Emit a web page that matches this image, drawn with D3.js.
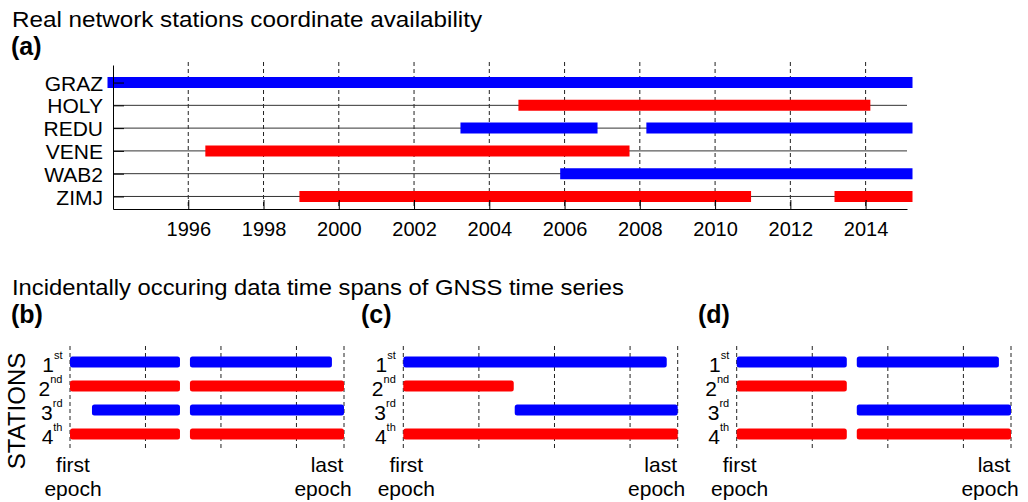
<!DOCTYPE html>
<html>
<head>
<meta charset="utf-8">
<script src="https://cdn.jsdelivr.net/npm/d3@7"></script>
<style>
  html, body { margin: 0; padding: 0; background: #fff; }
  svg { display: block; font-family: "Liberation Sans", Arial, Helvetica, sans-serif; }
</style>
</head>
<body>
<svg id="chart" width="1028" height="502"></svg>
<script>
// ---- (a) real network: availability spans per station, in decimal years ----
const stations = ["GRAZ", "HOLY", "REDU", "VENE", "WAB2", "ZIMJ"];
const spanStation = ["GRAZ", "HOLY", "REDU", "REDU", "VENE", "WAB2", "ZIMJ", "ZIMJ"];
const spanStart   = [1994.0, 2004.92, 2003.38, 2008.32, 1996.6, 2006.03, 1999.1, 2013.32];
const spanEnd     = [2015.1, 2013.98, 2006.73, 2015.1, 2007.58, 2015.1, 2010.81, 2015.1];
const yearDomain  = [1994, 2015.1];
const yearTicks   = [1996, 1998, 2000, 2002, 2004, 2006, 2008, 2010, 2012, 2014];

// ---- (b)-(d) schematic time spans, in epoch units ----
const rankDigits   = ["1", "2", "3", "4"];
const rankSuffixes = ["st", "nd", "rd", "th"];
const epochTicks   = [0, 1, 2, 3];
const epochEnd     = 3.63;

const caseBStation = [1, 1, 2, 2, 3, 3, 4, 4];
const caseBStart   = [0, 1.589, 0, 1.589, 0.291, 1.589, 0, 1.589];
const caseBEnd     = [1.457, 3.47, 1.457, 3.63, 1.457, 3.63, 1.457, 3.63];

const caseCStation = [1, 2, 3, 4];
const caseCStart   = [0, 0, 1.474, 0];
const caseCEnd     = [3.485, 1.461, 3.63, 3.63];

const caseDStation = [1, 1, 2, 3, 4, 4];
const caseDStart   = [0, 1.589, 0, 1.589, 0, 1.589];
const caseDEnd     = [1.457, 3.47, 1.457, 3.63, 1.457, 3.63];

const BLUE = "#0000ff", RED = "#ff0000";
const colorOfRank = i => (i % 2 === 1 ? BLUE : RED);   // 1st/3rd blue, 2nd/4th red

const svg = d3.select("#chart");

// ================= headings =================
svg.append("text").attr("x", 12).attr("y", 27)
  .attr("font-size", 22).attr("textLength", 470).attr("lengthAdjust", "spacingAndGlyphs")
  .text("Real network stations coordinate availability");
svg.append("text").attr("x", 11).attr("y", 55)
  .attr("font-size", 25).attr("font-weight", "bold").text("(a)");

svg.append("text").attr("x", 12).attr("y", 295)
  .attr("font-size", 22).attr("textLength", 612).attr("lengthAdjust", "spacingAndGlyphs")
  .text("Incidentally occuring data time spans of GNSS time series");

// ================= panel (a) =================
const xA = d3.scaleLinear().domain(yearDomain).range([113, 907]);
const yA = d3.scaleLinear().domain([0.23, 6.55]).range([65, 209]);
const rowA = name => yA(stations.indexOf(name) + 1);

const gA = svg.append("g");

// dashed year grid
gA.append("g").selectAll("line").data(yearTicks).join("line")
  .attr("x1", d => xA(d)).attr("x2", d => xA(d))
  .attr("y1", 62).attr("y2", yA.range()[1])
  .attr("stroke", "#222").attr("stroke-width", 1).attr("stroke-dasharray", "4,3");

// thin station baselines
gA.append("g").selectAll("line").data(stations).join("line")
  .attr("x1", xA(yearDomain[0])).attr("x2", xA(yearDomain[1]))
  .attr("y1", d => rowA(d)).attr("y2", d => rowA(d))
  .attr("stroke", "#333").attr("stroke-width", 1);

// availability bars
gA.append("g").selectAll("line").data(spanStation.map((s, i) => ({ s, a: spanStart[i], b: spanEnd[i] })))
  .join("line")
  .attr("x1", d => xA(d.a)).attr("x2", d => xA(d.b))
  .attr("y1", d => rowA(d.s)).attr("y2", d => rowA(d.s))
  .attr("stroke", d => colorOfRank(stations.indexOf(d.s) + 1))
  .attr("stroke-width", 11).attr("stroke-linecap", "square");

// bottom axis with inward ticks
const axA = gA.append("g").attr("transform", `translate(0,${yA.range()[1]})`)
  .call(d3.axisBottom(xA).tickValues(yearTicks).tickFormat(d3.format("d"))
    .tickSize(-9).tickSizeOuter(0).tickPadding(13));
axA.selectAll("text").attr("font-size", 20).attr("fill", "#000")
  .attr("font-family", "'Liberation Sans', Arial, sans-serif");
axA.selectAll("line, path").attr("stroke", "#000");

// left axis with station names
const ayA = gA.append("g").attr("transform", `translate(${xA(yearDomain[0])},0)`)
  .call(d3.axisLeft(yA).tickValues(d3.range(1, stations.length + 1))
    .tickFormat(i => stations[i - 1]).tickSize(-11).tickSizeOuter(0).tickPadding(10));
ayA.selectAll("text").attr("font-size", 21).attr("fill", "#000").attr("dy", "0.36em")
  .attr("font-family", "'Liberation Sans', Arial, sans-serif");
ayA.selectAll("line, path").attr("stroke", "#000");

// ================= panels (b), (c), (d) =================
const yRank = d3.scaleLinear().domain([1, 4]).range([362, 434]);

const cases = [
  { tag: "(b)", tagX: 11,  range: [70, 344],      st: caseBStation, a: caseBStart, b: caseBEnd, stationsTitle: true },
  { tag: "(c)", tagX: 361, range: [403.3, 677.7], st: caseCStation, a: caseCStart, b: caseCEnd },
  { tag: "(d)", tagX: 698, range: [736.7, 1011],  st: caseDStation, a: caseDStart, b: caseDEnd }
];

cases.forEach(c => {
  const x = d3.scaleLinear().domain([0, epochEnd]).range(c.range);
  const g = svg.append("g");

  g.append("text").attr("x", c.tagX).attr("y", 323)
    .attr("font-size", 25).attr("font-weight", "bold").text(c.tag);

  // dashed epoch grid, including the last epoch
  g.append("g").selectAll("line").data(epochTicks.concat([epochEnd])).join("line")
    .attr("x1", d => x(d)).attr("x2", d => x(d))
    .attr("y1", 346).attr("y2", 451)
    .attr("stroke", "#222").attr("stroke-width", 1).attr("stroke-dasharray", "4,3");

  // data spans
  g.append("g").selectAll("rect").data(c.st.map((s, i) => ({ s, a: c.a[i], b: c.b[i] }))).join("rect")
    .attr("x", d => x(d.a)).attr("width", d => x(d.b) - x(d.a))
    .attr("y", d => yRank(d.s) - 5.5).attr("height", 11)
    .attr("rx", 2.5)
    .attr("fill", d => colorOfRank(d.s));

  // station rank labels 1st..4th
  const lab = g.append("g").selectAll("text").data(rankDigits).join("text")
    .attr("x", x(0) - 7.5).attr("y", (d, i) => yRank(i + 1) + 9.5)
    .attr("text-anchor", "end").attr("font-size", 21);
  lab.append("tspan").text(d => d);
  lab.append("tspan").attr("font-size", 11).attr("dy", -12.5).text((d, i) => rankSuffixes[i]);

  // epoch captions
  const cap = (cx, y, t) => g.append("text").attr("x", cx).attr("y", y)
    .attr("text-anchor", "middle").attr("font-size", 21).text(t);
  cap(x(0) + 3, 472, "first");
  cap(x(0) + 3, 496, "epoch");
  cap(x(epochEnd) - 17, 472, "last");
  cap(x(epochEnd) - 21, 496, "epoch");

  if (c.stationsTitle) {
    svg.append("text")
      .attr("transform", "translate(25,411) rotate(-90)")
      .attr("text-anchor", "middle").attr("font-size", 24)
      .text("STATIONS");
  }
});
</script>
</body>
</html>
